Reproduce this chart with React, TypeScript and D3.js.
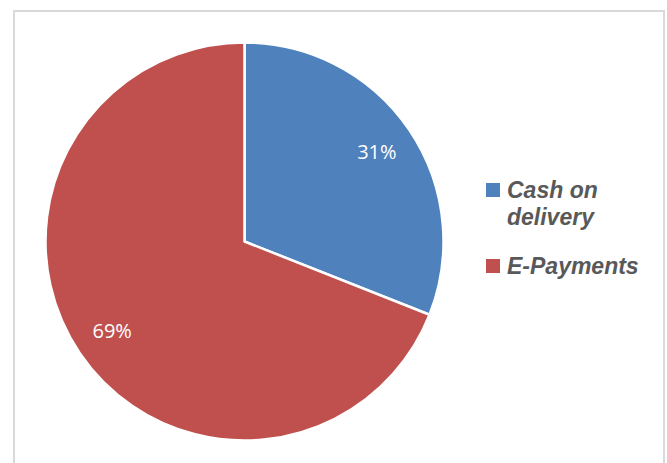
import React, { useRef, useEffect } from 'react';
import * as d3 from 'd3';

const categories = ['Cash on delivery', 'E-Payments'];
const shares = [31, 69];
const legendLines = [['Cash on', 'delivery'], ['E-Payments']];
const colors = ['#4f81bd', '#c0504d'];

export default function App() {
  const ref = useRef<SVGSVGElement>(null);

  useEffect(() => {
    const svg = d3.select(ref.current);
    svg.selectAll('*').remove();

    // chart frame
    svg.append('rect')
      .attr('x', 14)
      .attr('y', 11)
      .attr('width', 650)
      .attr('height', 470)
      .attr('fill', '#fff')
      .attr('stroke', '#d9d9d9')
      .attr('stroke-width', 2);

    const cx = 244.5, cy = 241.5, radius = 199;
    const pie = d3.pie<number>().sort(null).value(d => d);
    const arcs = pie(shares);
    const arc = d3.arc<d3.PieArcDatum<number>>().innerRadius(0).outerRadius(radius);
    const labelArc = d3.arc<d3.PieArcDatum<number>>().innerRadius(160).outerRadius(160);

    const g = svg.append('g').attr('transform', `translate(${cx},${cy})`);

    g.selectAll('.slice')
      .data(arcs)
      .enter()
      .append('path')
      .classed('slice', true)
      .attr('d', arc)
      .attr('fill', (d, i) => colors[i])
      .attr('stroke', '#fff')
      .attr('stroke-width', 2.5)
      .attr('stroke-linejoin', 'round');

    g.selectAll('.slice-label')
      .data(arcs)
      .enter()
      .append('text')
      .classed('slice-label', true)
      .attr('transform', d => `translate(${labelArc.centroid(d)})`)
      .attr('text-anchor', 'middle')
      .attr('dy', '0.35em')
      .attr('fill', '#fff')
      .style('font-family', '"Open Sans", "Liberation Sans", sans-serif')
      .style('font-size', '20px')
      .text(d => `${d.data}%`);

    // legend
    const legend = svg.append('g').attr('transform', 'translate(486,0)');
    const rowY = [183, 259];
    categories.forEach((c, i) => {
      legend.append('rect')
        .attr('x', 0)
        .attr('y', rowY[i])
        .attr('width', 14)
        .attr('height', 14)
        .attr('fill', colors[i]);
      const t = legend.append('text')
        .attr('x', 21)
        .attr('y', rowY[i] + 15)
        .attr('fill', '#595959')
        .style('font-family', '"Liberation Sans", Arial, sans-serif')
        .style('font-size', '23px')
        .style('font-weight', 'bold')
        .style('font-style', 'italic');
      legendLines[i].forEach((line, j) => {
        t.append('tspan')
          .attr('x', 21)
          .attr('dy', j === 0 ? 0 : 27)
          .text(line);
      });
    });
  }, []);

  return (
    <svg
      ref={ref}
      width={667}
      height={463}
      style={{ position: 'absolute', left: 0, top: 0 }}
    />
  );
}
